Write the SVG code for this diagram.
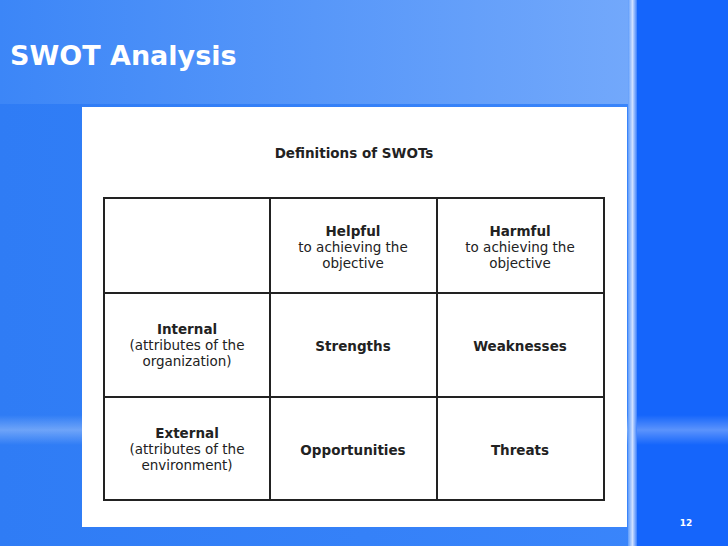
<svg xmlns="http://www.w3.org/2000/svg" width="728" height="546" viewBox="0 0 728 546">
<defs>
<linearGradient id="bgL" x1="0" y1="0" x2="1" y2="0"><stop offset="0" stop-color="#2f7cf5"/><stop offset="1" stop-color="#3b86fb"/></linearGradient>
<linearGradient id="top" x1="0" y1="0" x2="1" y2="0"><stop offset="0" stop-color="#3c86f7"/><stop offset="1" stop-color="#72a8fb"/></linearGradient>
<linearGradient id="vl" x1="0" y1="0" x2="1" y2="0"><stop offset="0" stop-color="#5e9cfb"/><stop offset="0.5" stop-color="#cfe0ff"/><stop offset="1" stop-color="#3b7ffb"/></linearGradient>
<linearGradient id="hb" x1="0" y1="0" x2="0" y2="1"><stop offset="0" stop-color="#ffffff" stop-opacity="0"/><stop offset="0.5" stop-color="#ffffff" stop-opacity="0.3"/><stop offset="1" stop-color="#ffffff" stop-opacity="0"/></linearGradient>
</defs>
<style>
.t{font-family:"DejaVu Sans",Verdana,sans-serif;fill:#222;text-anchor:middle;font-size:13.5px}
.b{font-weight:bold}
.g{stroke:#222;stroke-width:2;fill:none}
</style>
<rect width="728" height="546" fill="url(#bgL)"/>
<rect width="628" height="104" fill="url(#top)"/>
<rect x="636" width="92" height="546" fill="#1565fb"/>
<rect x="0" y="415" width="728" height="30" fill="url(#hb)"/>
<rect x="628" width="9" height="546" fill="url(#vl)"/>
<text x="10" y="65" font-family="DejaVu Sans,Verdana,sans-serif" font-weight="bold" font-size="27" fill="#fff">SWOT Analysis</text>
<text x="686" y="526" font-family="DejaVu Sans,Verdana,sans-serif" font-weight="bold" font-size="9" fill="#fff" text-anchor="middle">12</text>
<rect x="82" y="107" width="545" height="420" fill="#fff"/>
<text class="t b" x="354" y="158" font-size="16">Definitions of SWOTs</text>
<g id="grid">
<rect class="g" x="104" y="198" width="500" height="302"/>
<line class="g" x1="270" y1="198" x2="270" y2="500"/>
<line class="g" x1="437" y1="198" x2="437" y2="500"/>
<line class="g" x1="104" y1="293" x2="604" y2="293"/>
<line class="g" x1="104" y1="397" x2="604" y2="397"/>
</g>
<g id="helpful"><text class="t b" x="353" y="236">Helpful</text><text class="t" x="353" y="252">to achieving the</text><text class="t" x="353" y="268">objective</text></g>
<g id="harmful"><text class="t b" x="520" y="236">Harmful</text><text class="t" x="520" y="252">to achieving the</text><text class="t" x="520" y="268">objective</text></g>
<g id="internal"><text class="t b" x="187" y="334">Internal</text><text class="t" x="187" y="350">(attributes of the</text><text class="t" x="187" y="366">organization)</text></g>
<g id="external"><text class="t b" x="187" y="438">External</text><text class="t" x="187" y="454">(attributes of the</text><text class="t" x="187" y="470">environment)</text></g>
<g id="s"><text class="t b" x="353" y="351">Strengths</text></g>
<g id="w"><text class="t b" x="520" y="351">Weaknesses</text></g>
<g id="o"><text class="t b" x="353" y="455">Opportunities</text></g>
<g id="th"><text class="t b" x="520" y="455">Threats</text></g>
</svg>
